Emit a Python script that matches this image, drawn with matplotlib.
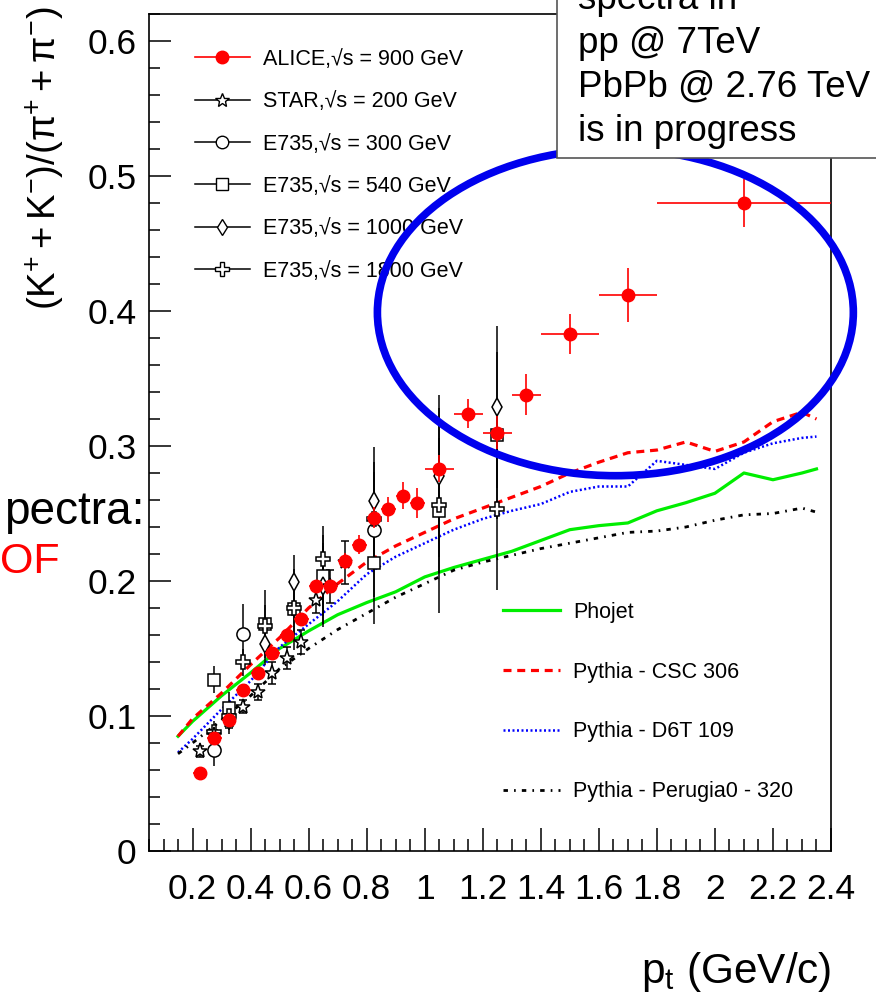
import matplotlib
matplotlib.use('Agg')
import matplotlib.pyplot as plt
from matplotlib import font_manager
from matplotlib.lines import Line2D
from matplotlib.patches import Ellipse, Rectangle
from matplotlib.ticker import MultipleLocator

# ALICE, sqrt(s) = 900 GeV
alice_x = [0.225, 0.275, 0.325, 0.375, 0.425, 0.475, 0.525, 0.575, 0.625, 0.675, 0.725, 0.775,
           0.825, 0.875, 0.925, 0.975, 1.05, 1.15, 1.25, 1.35, 1.5, 1.7, 2.1]
alice_xerr = [0.025] * 16 + [0.05, 0.05, 0.05, 0.05, 0.1, 0.1, 0.3]
alice_y = [0.058, 0.084, 0.097, 0.119, 0.132, 0.147, 0.160, 0.172, 0.196, 0.196, 0.215, 0.227,
           0.247, 0.253, 0.263, 0.258, 0.283, 0.324, 0.310, 0.338, 0.383, 0.412, 0.480]
alice_yerr = [0.002, 0.002, 0.003, 0.003, 0.003, 0.003, 0.004, 0.004, 0.005, 0.005, 0.006, 0.007,
              0.008, 0.009, 0.010, 0.011, 0.010, 0.011, 0.012, 0.015, 0.015, 0.020, 0.018]

# STAR, sqrt(s) = 200 GeV
star_x = [0.225, 0.275, 0.325, 0.375, 0.425, 0.475, 0.525, 0.575, 0.625, 0.675, 0.725]
star_y = [0.074, 0.086, 0.096, 0.107, 0.118, 0.132, 0.143, 0.155, 0.186, 0.196, 0.214]
star_yerr = [0.004, 0.004, 0.005, 0.005, 0.006, 0.008, 0.008, 0.009, 0.010, 0.012, 0.016]

# E735
e300_x = [0.275, 0.375, 0.65, 0.825]
e300_y = [0.075, 0.161, 0.198, 0.238]
e300_yerr = [0.012, 0.022, 0.03, 0.05]

e540_x = [0.275, 0.325, 0.45, 0.55, 0.65, 0.825, 1.05, 1.25]
e540_y = [0.127, 0.106, 0.168, 0.179, 0.204, 0.213, 0.252, 0.308]
e540_yerr = [0.010, 0.012, 0.025, 0.030, 0.030, 0.045, 0.076, 0.062]

e1000_x = [0.325, 0.45, 0.55, 0.65, 0.825, 1.05, 1.25]
e1000_y = [0.097, 0.153, 0.199, 0.196, 0.259, 0.278, 0.329]
e1000_yerr = [0.010, 0.015, 0.020, 0.030, 0.040, 0.060, 0.060]

e1800_x = [0.275, 0.325, 0.375, 0.45, 0.55, 0.65, 0.825, 1.05, 1.25]
e1800_y = [0.088, 0.100, 0.140, 0.167, 0.180, 0.216, 0.246, 0.256, 0.253]
e1800_yerr = [0.008, 0.010, 0.010, 0.015, 0.020, 0.025, 0.035, 0.050, 0.060]

# modelos
mc_x = [0.15, 0.2, 0.3, 0.4, 0.5, 0.6, 0.7, 0.8, 0.9, 1.0, 1.1, 1.2, 1.3, 1.4, 1.5, 1.6,
        1.7, 1.8, 1.9, 2.0, 2.1, 2.2, 2.3, 2.35]
phojet_y = [0.085, 0.096, 0.115, 0.132, 0.150, 0.163, 0.175, 0.184, 0.192, 0.203, 0.210, 0.216,
            0.222, 0.230, 0.238, 0.241, 0.243, 0.252, 0.258, 0.265, 0.280, 0.275, 0.280, 0.283]
csc_y = [0.085, 0.098, 0.117, 0.138, 0.158, 0.180, 0.198, 0.214, 0.226, 0.236, 0.246, 0.254,
         0.262, 0.270, 0.280, 0.288, 0.295, 0.297, 0.303, 0.296, 0.303, 0.318, 0.325, 0.320]
d6t_y = [0.073, 0.083, 0.105, 0.126, 0.151, 0.168, 0.185, 0.205, 0.218, 0.228, 0.238, 0.246,
         0.252, 0.257, 0.266, 0.270, 0.270, 0.289, 0.286, 0.283, 0.295, 0.302, 0.306, 0.307]
perugia_y = [0.072, 0.080, 0.097, 0.115, 0.135, 0.150, 0.164, 0.176, 0.188, 0.198, 0.208, 0.214,
             0.219, 0.224, 0.228, 0.232, 0.236, 0.237, 0.240, 0.245, 0.249, 0.250, 0.254, 0.251]

data_labels = ['ALICE,\u221as = 900 GeV', 'STAR,\u221as = 200 GeV', 'E735,\u221as = 300 GeV',
               'E735,\u221as = 540 GeV', 'E735,\u221as = 1000 GeV', 'E735,\u221as = 1800 GeV']
mc_labels = ['Phojet', 'Pythia - CSC 306', 'Pythia - D6T 109', 'Pythia - Perugia0 - 320']
box_lines = ['spectra in', 'pp @ 7TeV', 'PbPb @ 2.76 TeV', 'is in progress']

W, H = 876, 1000


def pick_font(names):
    for name in names:
        try:
            font_manager.findfont(name, fallback_to_default=False)
            return name
        except ValueError:
            pass
    return 'DejaVu Sans'


def fx(px):
    return px / W


def fy(py):
    return 1 - py / H


def main():
    plt.rcParams['font.family'] = ['Liberation Sans', 'DejaVu Sans']
    plt.rcParams['mathtext.fontset'] = 'custom'
    plt.rcParams['mathtext.rm'] = 'Liberation Sans'
    plt.rcParams['mathtext.it'] = 'Liberation Sans:italic'

    narrow = pick_font(['Liberation Sans Narrow'])
    has_narrow = narrow == 'Liberation Sans Narrow'
    tick_font = narrow if has_narrow else 'Liberation Sans'
    tick_fs = 29 if has_narrow else 25.5

    fig = plt.figure(figsize=(8.76, 10), dpi=100)
    ax = fig.add_axes([fx(149), fy(851), fx(831 - 149), (851 - 14) / H])
    ax.set_xlim(0.05, 2.4)
    ax.set_ylim(0, 0.62)

    # curvas de modelo
    ax.plot(mc_x, phojet_y, color='#00ee00', lw=2.3, zorder=2)
    ax.plot(mc_x, csc_y, color='red', lw=2.3, linestyle=(0, (2.5, 1.8)), zorder=2)
    ax.plot(mc_x, d6t_y, color='blue', lw=1.8, linestyle=(0, (0.8, 1.0)), zorder=2)
    ax.plot(mc_x, perugia_y, color='black', lw=2.0, linestyle=(0, (1.6, 2.2, 0.6, 2.2)), zorder=2)

    # pontos experimentais
    open_kw = dict(color='black', mfc='white', mec='black', mew=1.1, elinewidth=1.1,
                   linestyle='none', zorder=3)
    ax.errorbar(e300_x, e300_y, yerr=e300_yerr, fmt='o', ms=9.5, **open_kw)
    ax.errorbar(e540_x, e540_y, yerr=e540_yerr, fmt='s', ms=9, **open_kw)
    ax.errorbar(e1000_x, e1000_y, yerr=e1000_yerr, fmt='d', ms=9, **open_kw)
    ax.errorbar(e1800_x, e1800_y, yerr=e1800_yerr, fmt='P', ms=10, **open_kw)
    ax.errorbar(star_x, star_y, yerr=star_yerr, fmt='*', ms=11, capsize=3, capthick=1.1, **open_kw)
    ax.errorbar(alice_x, alice_y, xerr=alice_xerr, yerr=alice_yerr, fmt='o', color='red',
                ms=9, elinewidth=1.2, linestyle='none', zorder=4)

    # eixos no estilo ROOT
    ax.xaxis.set_minor_locator(MultipleLocator(0.05))
    ax.yaxis.set_minor_locator(MultipleLocator(0.02))
    ax.set_xticks([0.2, 0.4, 0.6, 0.8, 1.0, 1.2, 1.4, 1.6, 1.8, 2.0, 2.2, 2.4])
    ax.set_xticklabels(['0.2', '0.4', '0.6', '0.8', '1', '1.2', '1.4', '1.6', '1.8', '2', '2.2', '2.4'])
    ax.set_yticks([0, 0.1, 0.2, 0.3, 0.4, 0.5, 0.6])
    ax.set_yticklabels(['0', '0.1', '0.2', '0.3', '0.4', '0.5', '0.6'])
    ax.tick_params(which='both', direction='in', width=1.1, top=False, right=False)
    ax.tick_params(axis='x', which='major', length=16.5, pad=16)
    ax.tick_params(axis='x', which='minor', length=8.5)
    ax.tick_params(axis='y', which='major', length=16, pad=9)
    ax.tick_params(axis='y', which='minor', length=8)
    for lab in ax.get_xticklabels() + ax.get_yticklabels():
        lab.set_fontfamily(tick_font)
        lab.set_fontsize(tick_fs)
    for sp in ax.spines.values():
        sp.set_linewidth(1.2)

    fig.text(fx(45), fy(158), r'$\mathregular{(K^{+}+K^{-})/(\pi^{+}+\pi^{-})}$',
             rotation=90, ha='center', va='center', fontsize=27.5)
    fig.text(fx(831), fy(983), r'$\mathregular{p_{t}}$ (GeV/c)', ha='right', va='baseline',
             fontsize=30.5)

    # legendas
    data_handles = [
        Line2D([], [], color='red', lw=1.2, marker='o', ms=9),
        Line2D([], [], color='black', lw=1.1, marker='*', ms=10, mfc='white'),
        Line2D([], [], color='black', lw=1.1, marker='o', ms=9, mfc='white'),
        Line2D([], [], color='black', lw=1.1, marker='s', ms=8.5, mfc='white'),
        Line2D([], [], color='black', lw=1.1, marker='d', ms=8.5, mfc='white'),
        Line2D([], [], color='black', lw=1.1, marker='P', ms=9.5, mfc='white'),
    ]
    leg1 = ax.legend(data_handles, data_labels, loc='upper left',
                     bbox_to_anchor=(fx(195), fy(49)), bbox_transform=fig.transFigure,
                     frameon=False, fontsize=15.5, handlelength=2.55, handletextpad=0.6,
                     labelspacing=0.99, borderpad=0, borderaxespad=0)
    ax.add_artist(leg1)

    mc_handles = [
        Line2D([], [], color='#00ee00', lw=2.3),
        Line2D([], [], color='red', lw=2.3, linestyle=(0, (2.5, 1.8))),
        Line2D([], [], color='blue', lw=1.8, linestyle=(0, (0.8, 1.0))),
        Line2D([], [], color='black', lw=2.0, linestyle=(0, (1.6, 2.2, 0.6, 2.2))),
    ]
    ax.legend(mc_handles, mc_labels, loc='upper left',
              bbox_to_anchor=(fx(503), fy(602)), bbox_transform=fig.transFigure,
              frameon=False, fontsize=15.5, handlelength=2.65, handletextpad=0.6,
              labelspacing=1.8, borderpad=0, borderaxespad=0)

    # marcacao azul
    ax.add_patch(Ellipse((1.657, 0.399), 1.64, 0.242, fill=False, edgecolor='#0000ee',
                         lw=5.5, clip_on=False, zorder=6))

    # caixa de texto do slide
    fig.add_artist(Rectangle((fx(557), fy(158)), fx(330), 0.2, transform=fig.transFigure,
                             facecolor='white', edgecolor='#555555', lw=1.2))
    for i, line in enumerate(box_lines):
        fig.text(fx(578), fy(9 + 44 * i), line, fontsize=26.5, va='baseline', ha='left')

    fig.text(fx(145), fy(524), 'pectra:', fontsize=33, ha='right', va='baseline')
    fig.text(fx(60), fy(573), 'OF', fontsize=31, ha='right', va='baseline', color='red')

    fig.savefig('out.png', dpi=100)


if __name__ == '__main__':
    main()
